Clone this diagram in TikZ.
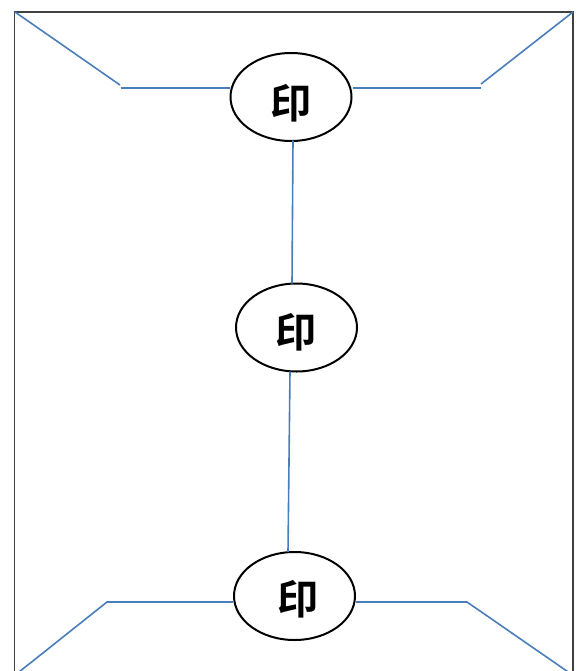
\documentclass[tikz,border=0pt]{standalone}
\usepackage{fontspec}
\newfontfamily\cjk{Noto Sans CJK SC}[BoldFont={* Bold}]
\usetikzlibrary{shapes.geometric}
\definecolor{linkblue}{HTML}{4A7EBB}
\definecolor{framegray}{HTML}{404040}
\begin{document}
\begin{tikzpicture}[x=0.75pt,y=-0.75pt,
  seal/.style={ellipse,draw=black,line width=1.5pt,minimum width=121*0.75pt,minimum height=88*0.75pt,inner sep=0pt},
  sealtext/.style={inner sep=0pt,font=\cjk\bfseries\fontsize{31}{31}\selectfont},
  link/.style={draw=linkblue,line width=1.2pt},
  frame/.style={draw=framegray,line width=1.1pt}]
\useasboundingbox (0,0) rectangle (583,671);
\begin{scope}
\clip (0,0) rectangle (583,671);
\draw[frame] (14.5,676) -- (14.5,12) -- (573,12) -- (573,676);
\node[seal] (top) at (291,97) {};
\node[seal] (mid) at (296.5,327.5) {};
\node[seal] (bot) at (294.5,596) {};
\node[sealtext] (ttop) at (291.5,103.5) {印};
\node[sealtext] (tmid) at (296,332) {印};
\node[sealtext] (tbot) at (298,599.5) {印};
\coordinate (tl) at (15,12);
\coordinate (tlk) at (120,85);
\coordinate (tlh) at (121,88);
\coordinate (tr) at (573,12);
\coordinate (trk) at (481,84);
\coordinate (trh) at (481,88);
\coordinate (bl) at (14,676);
\coordinate (blk) at (107,602);
\coordinate (br) at (574,676);
\coordinate (brk) at (467,602);
\coordinate (v1a) at (293,140.5);
\coordinate (v1b) at (292,283.5);
\coordinate (v2a) at (290,371.5);
\coordinate (v2b) at (288,552);
\draw[link] (tl) -- (tlk);
\draw[link] (tlh) -- (top.west |- tlh);
\draw[link] (top.east |- trh) -- (trh);
\draw[link] (trk) -- (tr);
\draw[link] (bl) -- (blk) -- (bot.west |- blk);
\draw[link] (bot.east |- brk) -- (brk) -- (br);
\draw[link] (v1a) -- (v1b);
\draw[link] (v2a) -- (v2b);
\end{scope}
\end{tikzpicture}
\end{document}
